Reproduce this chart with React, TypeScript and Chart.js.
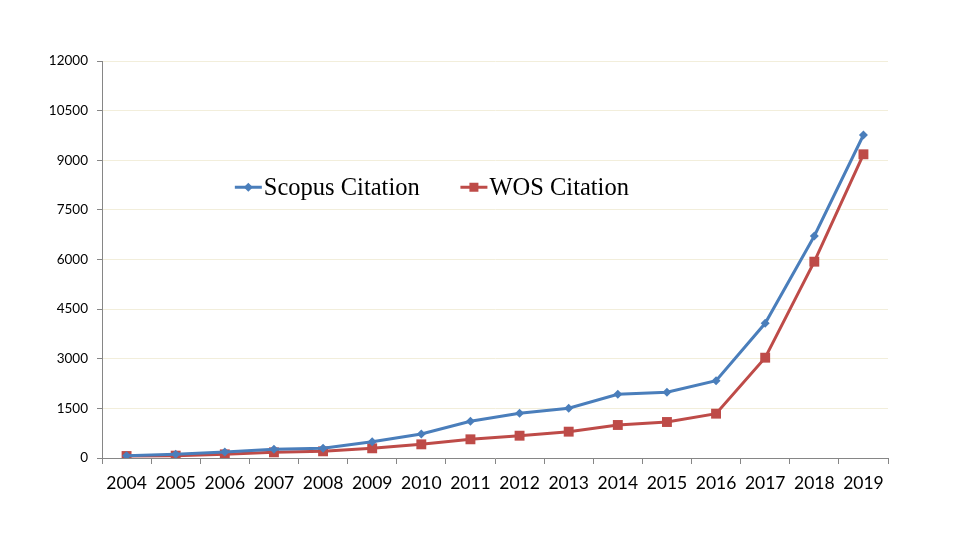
import React, { useEffect, useRef } from "react";
import { Chart, registerables } from "chart.js";

Chart.register(...registerables);

const years = ["2004","2005","2006","2007","2008","2009","2010","2011","2012","2013","2014","2015","2016","2017","2018","2019"];
const scopusCitation = [70, 111, 181, 263, 293, 494, 725, 1108, 1350, 1502, 1925, 1985, 2337, 4072, 6710, 9764];
const wosCitation = [60, 71, 111, 172, 202, 293, 413, 565, 674, 796, 998, 1088, 1340, 3032, 5934, 9180];
const seriesNames = ["Scopus Citation", "WOS Citation"];
const yMin = 0;
const yMax = 12000;
const yStep = 1500;

const BLUE = "#4a7ebb";
const RED = "#be4b48";

const legendPlugin = {
  id: "insideLegend",
  afterDraw(chart: any) {
    const ctx = chart.ctx;
    const area = chart.chartArea;
    const y = area.top + (area.bottom - area.top) * 0.318;
    const starts = [area.left + (area.right - area.left) * 0.169, area.left + (area.right - area.left) * 0.456];
    ctx.save();
    ctx.font = "24.5px 'Liberation Serif', serif";
    ctx.textBaseline = "middle";
    chart.data.datasets.forEach((ds: any, i: number) => {
      const x0 = starts[i];
      ctx.strokeStyle = ds.borderColor;
      ctx.lineWidth = 3;
      ctx.beginPath();
      ctx.moveTo(x0, y);
      ctx.lineTo(x0 + 27, y);
      ctx.stroke();
      ctx.fillStyle = ds.borderColor;
      if (ds.pointStyle === "rect") {
        ctx.fillRect(x0 + 13.5 - 4.5, y - 4.5, 9, 9);
      } else {
        ctx.beginPath();
        ctx.moveTo(x0 + 13.5, y - 4.5);
        ctx.lineTo(x0 + 18, y);
        ctx.lineTo(x0 + 13.5, y + 4.5);
        ctx.lineTo(x0 + 9, y);
        ctx.closePath();
        ctx.fill();
      }
      ctx.fillStyle = "#000";
      ctx.fillText(ds.label, x0 + 29, y + 1);
    });
    ctx.restore();
  },
};

export default function App() {
  const ref = useRef<HTMLCanvasElement>(null);
  useEffect(() => {
    const chart = new Chart(ref.current as HTMLCanvasElement, {
      type: "line",
      data: {
        labels: years,
        datasets: [
          {
            label: seriesNames[0],
            data: scopusCitation,
            borderColor: BLUE,
            backgroundColor: BLUE,
            borderWidth: 3,
            pointStyle: "rectRot",
            pointRadius: 4.5,
            pointBorderWidth: 0,
            tension: 0,
          },
          {
            label: seriesNames[1],
            data: wosCitation,
            borderColor: RED,
            backgroundColor: RED,
            borderWidth: 3,
            pointStyle: "rect",
            pointRadius: 7,
            pointBorderWidth: 0,
            tension: 0,
          },
        ],
      },
      options: {
        animation: false,
        responsive: false,
        maintainAspectRatio: false,
        layout: { padding: { left: 0, top: 61, right: 72, bottom: 0 } },
        plugins: { legend: { display: false }, tooltip: { enabled: false } },
        scales: {
          x: {
            offset: true,
            grid: {
              offset: true,
              drawOnChartArea: false,
              drawTicks: true,
              tickLength: 6,
              tickColor: "#868686",
            },
            border: { color: "#868686", width: 1 },
            ticks: {
              color: "#000",
              padding: 9,
              maxRotation: 0,
              autoSkip: false,
              font: { family: "Lato, 'Open Sans', sans-serif", size: 17.5 },
            },
            afterFit(scale: any) {
              scale.height = 93;
            },
          },
          y: {
            min: yMin,
            max: yMax,
            grid: {
              color: "#f2eedb",
              tickColor: "#868686",
              tickLength: 5,
            },
            border: { color: "#868686", width: 1 },
            ticks: {
              stepSize: yStep,
              color: "#000",
              padding: 9,
              font: { family: "Lato, 'Open Sans', sans-serif", size: 13.5 },
              callback: (v: any) => String(v),
            },
            afterFit(scale: any) {
              scale.width = 102;
            },
          },
        },
      },
      plugins: [legendPlugin],
    });
    return () => chart.destroy();
  }, []);
  return (
    <div style={{ position: "absolute", left: 0, top: 0, width: 960, height: 551, background: "#fff" }}>
      <canvas ref={ref} width={960} height={551} style={{ display: "block" }} />
    </div>
  );
}
